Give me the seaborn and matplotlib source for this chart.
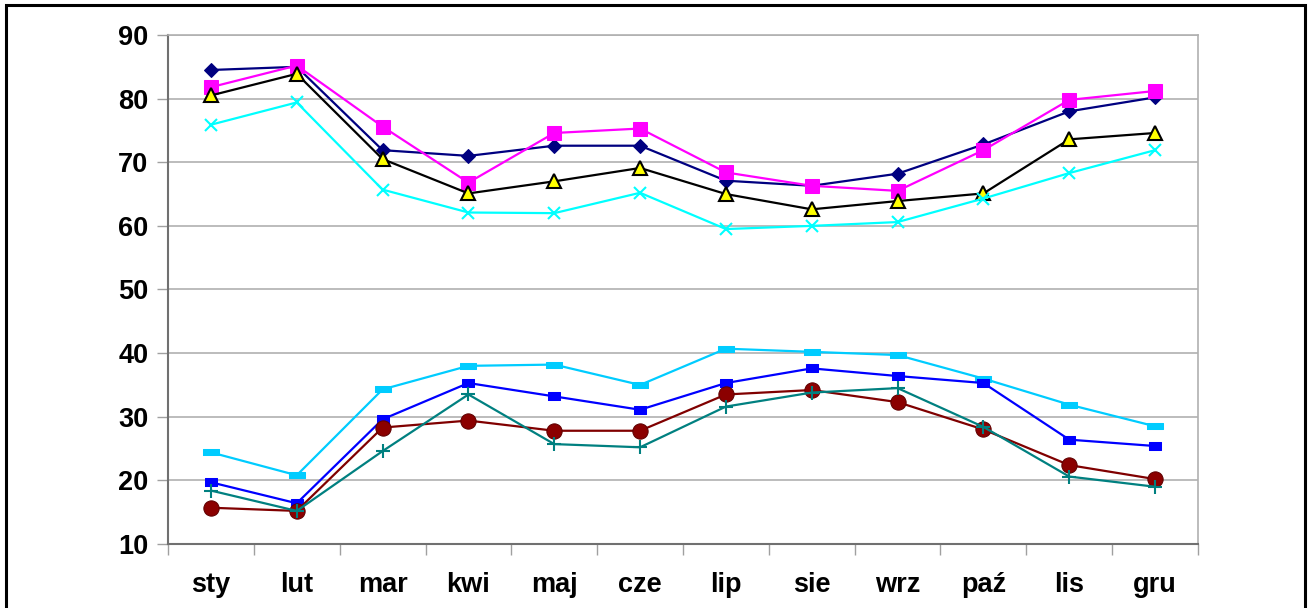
import numpy as np
import pandas as pd
import seaborn as sns
import matplotlib.pyplot as plt
from matplotlib.patches import Rectangle
from matplotlib.ticker import FixedLocator, NullFormatter

months = ['sty', 'lut', 'mar', 'kwi', 'maj', 'cze', 'lip', 'sie', 'wrz', 'paź', 'lis', 'gru']

# upper group
s1 = [84.5, 85.0, 71.9, 71.0, 72.6, 72.6, 67.1, 66.3, 68.2, 72.8, 78.0, 80.2]
s2 = [81.8, 85.2, 75.6, 66.8, 74.6, 75.3, 68.4, 66.3, 65.5, 71.9, 79.8, 81.2]
s3 = [80.5, 83.9, 70.5, 65.1, 67.0, 69.1, 65.0, 62.6, 63.9, 65.1, 73.6, 74.6]
s4 = [75.9, 79.4, 65.7, 62.1, 62.0, 65.2, 59.5, 60.0, 60.6, 64.3, 68.3, 71.9]
# lower group
s5 = [24.4, 20.8, 34.3, 38.0, 38.2, 35.0, 40.7, 40.2, 39.7, 36.0, 31.9, 28.5]
s6 = [19.7, 16.4, 29.6, 35.3, 33.2, 31.1, 35.3, 37.6, 36.4, 35.3, 26.4, 25.4]
s7 = [15.7, 15.2, 28.3, 29.4, 27.8, 27.8, 33.5, 34.2, 32.3, 28.0, 22.4, 20.2]
s8 = [18.4, 15.2, 24.6, 33.5, 25.7, 25.2, 31.6, 33.8, 34.5, 28.4, 20.6, 19.0]

yticks = [10, 20, 30, 40, 50, 60, 70, 80, 90]

wide_bar = [(-1, -0.4), (1, -0.4), (1, 0.4), (-1, 0.4), (-1, -0.4)]
small_bar = [(-1, -0.6), (1, -0.6), (1, 0.6), (-1, 0.6), (-1, -0.6)]

styles = [
    (s1, dict(color='#000080', marker='D', markersize=7, mfc='#000080', mec='#000080')),
    (s2, dict(color='#FF00FF', marker='s', markersize=10, mfc='#FF00FF', mec='#FF00FF')),
    (s3, dict(color='#000000', marker='^', markersize=10, mfc='#FFFF00', mec='#000000', mew=1.5)),
    (s4, dict(color='#00FFFF', marker='x', markersize=8, mec='#00FFFF', mew=1.5)),
    (s5, dict(color='#00CCFF', marker=wide_bar, markersize=12, mfc='#00CCFF', mec='#00CCFF')),
    (s6, dict(color='#0000FF', marker=small_bar, markersize=9, mfc='#0000FF', mec='#0000FF')),
    (s7, dict(color='#800000', marker='o', markersize=11, mfc='#8B0000', mec='#600000')),
    (s8, dict(color='#008080', marker='+', markersize=10, mec='#008080', mew=1.5)),
]

sns.set_theme(style='white')
plt.rcParams['font.family'] = ['Liberation Sans', 'DejaVu Sans']

fig = plt.figure(figsize=(13.11, 6.08), dpi=100)
ax = fig.add_axes([168 / 1311, 1 - 544 / 608, (1198 - 168) / 1311, (544 - 35) / 608])

x = np.arange(len(months))
for vals, st in styles:
    df = pd.DataFrame({'x': x, 'y': vals})
    sns.lineplot(data=df, x='x', y='y', ax=ax, linewidth=1.6, legend=False, **st)

ax.set_xlim(-0.5, len(months) - 0.5)
ax.set_ylim(10, 90)
ax.set_yticks(yticks)
ax.yaxis.grid(True, color='#B0B0B0', linewidth=1.2)
ax.set_xlabel('')
ax.set_ylabel('')

# x: labels at centres, tick marks at category boundaries
ax.set_xticks(x)
ax.set_xticklabels(months, fontsize=19.5, fontweight='bold', color='black')
ax.tick_params(axis='x', which='major', length=0, pad=20)
ax.xaxis.set_minor_locator(FixedLocator(np.arange(-0.5, len(months), 1.0)))
ax.xaxis.set_minor_formatter(NullFormatter())
ax.tick_params(axis='x', which='minor', length=8, width=1, color='#A0A0A0', direction='out', bottom=True)
ax.tick_params(axis='y', length=8, width=1, color='#A0A0A0', direction='out', left=True, pad=6)
for lab in ax.get_yticklabels():
    lab.set_fontsize(19.5)
    lab.set_fontweight('bold')
    lab.set_color('black')

for side in ['left', 'bottom']:
    ax.spines[side].set_color('#707070')
    ax.spines[side].set_linewidth(1.5)
for side in ['top', 'right']:
    ax.spines[side].set_color('#B0B0B0')
    ax.spines[side].set_linewidth(1.2)

# outer black frame of the chart area
fig.patches.append(Rectangle((6 / 1311, -0.02), (1305 - 6) / 1311, 1 - 5 / 608 + 0.02,
                             transform=fig.transFigure, fill=False, edgecolor='black',
                             linewidth=2.2, clip_on=False))

fig.savefig('out.png', dpi=100)
